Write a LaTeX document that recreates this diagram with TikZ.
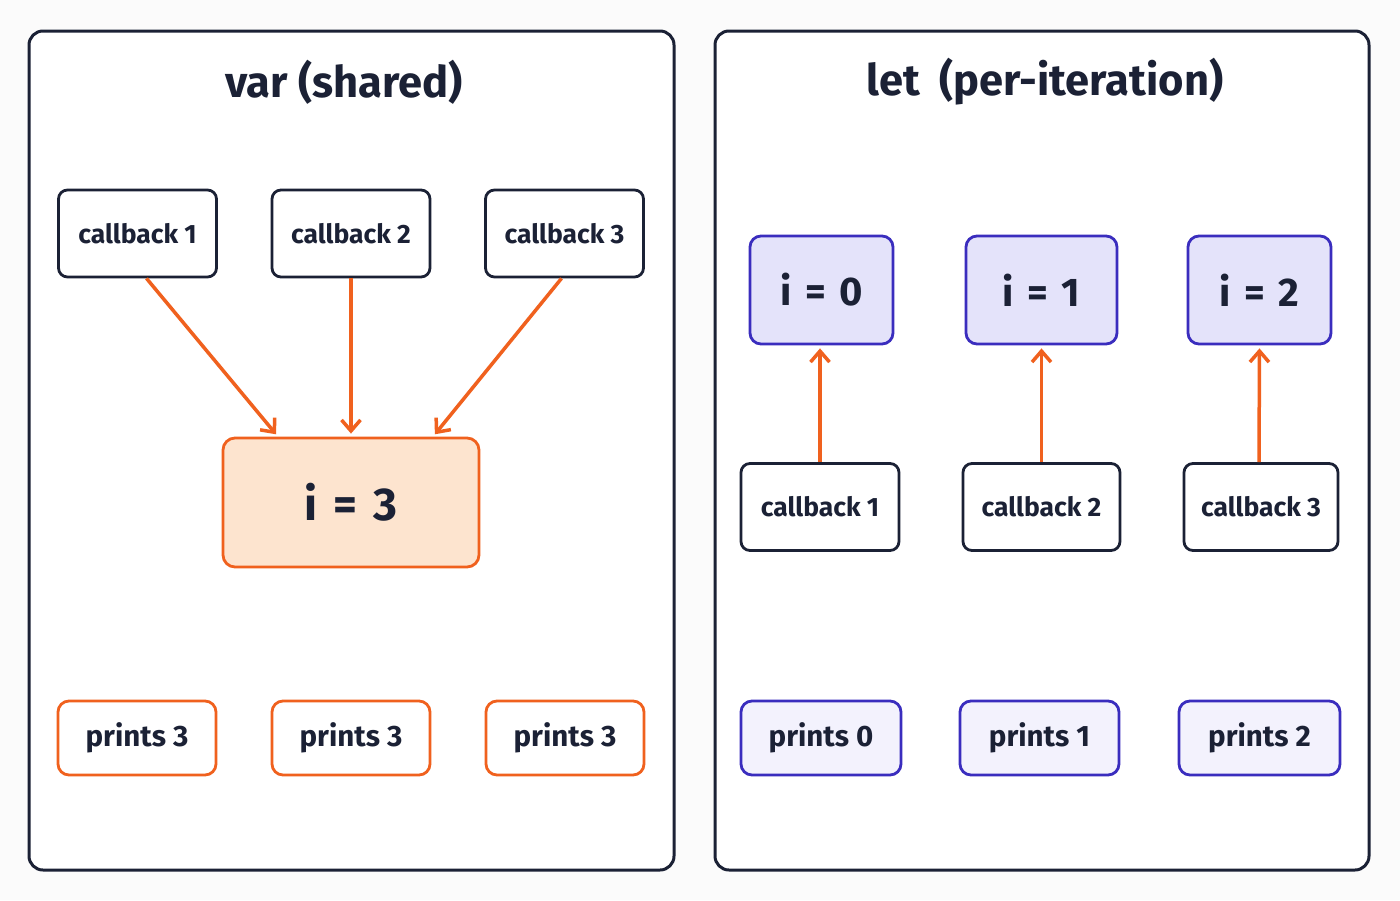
\documentclass[tikz,border=0pt]{standalone}
\usepackage{fontspec}
\setmainfont{Fira Sans}
\usetikzlibrary{arrows.meta,calc}
\definecolor{ink}{HTML}{1B2135}
\definecolor{org}{HTML}{F0611E}
\definecolor{orgfill}{HTML}{FDE4CF}
\definecolor{ind}{HTML}{3A2DBE}
\definecolor{indfill}{HTML}{E4E3FA}
\definecolor{indlight}{HTML}{F3F2FD}
\definecolor{bg}{HTML}{FBFBFB}
\newcommand{\eqsp}{\hspace{0.34em}}
\begin{document}
\begin{tikzpicture}[x=1pt,y=-1pt,
  panel/.style={draw=ink,line width=3pt,rounded corners=14pt,fill=white},
  ttl/.style={font=\fontsize{43.5}{48}\selectfont\bfseries,text=ink},
  cbbox/.style={draw=ink,line width=2.8pt,rounded corners=9pt,fill=white,minimum width=158pt,minimum height=87pt,font=\fontsize{26.5}{30}\selectfont\bfseries,text=ink,inner sep=0pt},
  ivar/.style={draw=org,line width=2.8pt,rounded corners=12pt,fill=orgfill,minimum width=256pt,minimum height=129pt,font=\fontsize{46}{50}\selectfont\bfseries,text=ink,inner sep=0pt},
  ilet/.style={draw=ind,line width=2.8pt,rounded corners=11pt,fill=indfill,minimum width=143pt,minimum height=108pt,font=\fontsize{40}{44}\selectfont\bfseries,text=ink,inner sep=0pt},
  prvar/.style={draw=org,line width=2.8pt,rounded corners=11pt,fill=white,minimum width=158pt,minimum height=74pt,font=\fontsize{29.5}{33}\selectfont\bfseries,text=ink,inner sep=0pt},
  prlet/.style={draw=ind,line width=2.8pt,rounded corners=11pt,fill=indlight,minimum width=159pt,minimum height=74pt,font=\fontsize{29.5}{33}\selectfont\bfseries,text=ink,inner sep=0pt},
  arr/.style={draw=org,line width=3.5pt,-{Straight Barb[length=11pt,width=19pt,line width=3.5pt]},shorten >=3pt}
]
\fill[bg] (0,0) rectangle (1400,900);
\useasboundingbox (0,0) rectangle (1400,900);
% panels
\node[panel,minimum width=645pt,minimum height=839pt,inner sep=0pt] (pl) at (351.5,450.5) {};
\node[panel,minimum width=654pt,minimum height=839pt,inner sep=0pt] (pr) at (1042,450.5) {};
\node[ttl] (tl) at (344,82) {var (shared)};
\node[ttl] (tr) at (1045,82) {let\hspace{0.45em}(per-iteration)};
% left
\node[cbbox] (lc1) at (137.5,233.5) {callback 1};
\node[cbbox] (lc2) at (351,233.5) {callback 2};
\node[cbbox] (lc3) at (564.5,233.5) {callback 3};
\node[ivar] (i3) at (351,502.5) {i\eqsp=\eqsp3};
\draw[arr] ($(lc1.south)+(9,0)$) -- ($(i3.north)+(-73,0)$);
\draw[arr] (lc2.south) -- (i3.north);
\draw[arr] ($(lc3.south)+(-3,0)$) -- ($(i3.north)+(82,0)$);
\node[prvar] (lp1) at (137,738) {prints 3};
\node[prvar] (lp2) at (351,738) {prints 3};
\node[prvar] (lp3) at (565,738) {prints 3};
% right
\node[ilet] (i0) at (821.5,290) {i\eqsp=\eqsp0};
\node[ilet,minimum width=151pt] (i1) at (1041.5,290) {i\eqsp=\eqsp1};
\node[ilet] (i2) at (1259.5,290) {i\eqsp=\eqsp2};
\node[cbbox] (rc1) at (820,507) {callback 1};
\node[cbbox,minimum width=157pt] (rc2) at (1041.5,507) {callback 2};
\node[cbbox,minimum width=154pt] (rc3) at (1261,507) {callback 3};
\draw[arr] (rc1.north) -- (rc1.north |- i0.south);
\draw[arr] (rc2.north) -- (rc2.north |- i1.south);
\draw[arr] ($(rc3.north)+(-2,0)$) -- ($(i2.south)$);
\node[prlet,minimum width=160pt] (rp1) at (821,738) {prints 0};
\node[prlet] (rp2) at (1039.5,738) {prints 1};
\node[prlet,minimum width=161pt] (rp3) at (1259.5,738) {prints 2};
\end{tikzpicture}
\end{document}
